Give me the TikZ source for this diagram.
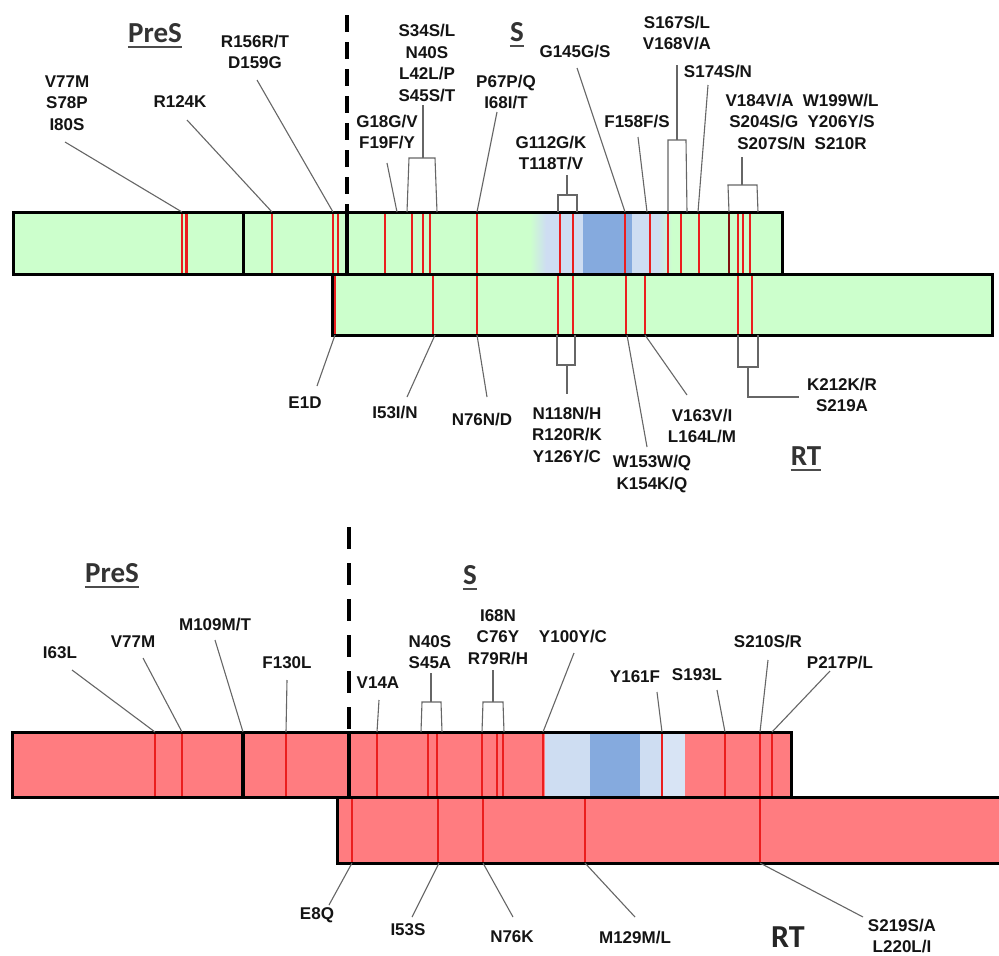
\documentclass[tikz,border=0pt]{standalone}
\usepackage{fontspec}
\setmainfont{Liberation Sans}
\newfontfamily\hdfont{Carlito}
\definecolor{barGreen}{RGB}{204,255,204}
\definecolor{barRed}{RGB}{255,124,128}
\definecolor{ltBlue}{RGB}{206,221,242}
\definecolor{dkBlue}{RGB}{133,170,222}
\definecolor{mutRed}{RGB}{235,30,30}
\tikzset{
  lab/.style={font=\bfseries\fontsize{17}{21.5}\selectfont, text=black!92, align=center, inner sep=0pt},
  hd/.style={font=\hdfont\bfseries\fontsize{29}{30}\selectfont, text=black!80, inner sep=0pt},
  bigrt/.style={font=\hdfont\bfseries\fontsize{32}{34}\selectfont, text=black!85, inner sep=0pt},
  conn/.style={draw=black!60, line width=1.1pt},
  mut/.style={draw=mutRed, line width=1.6pt},
  mutthick/.style={draw=mutRed, line width=2.8pt},
  barframe/.style={draw=black, line width=3pt},
  uline/.style={draw=black!70, line width=2.2pt},
}
\begin{document}
\begin{tikzpicture}[x=1pt,y=-1pt]
\clip (0,0) rectangle (999,956);
\fill[white] (0,0) rectangle (999,956);

%================ TOP DIAGRAM =================
% bars fill
\fill[barGreen] (13,212) rectangle (782,274);
\fill[barGreen] (332,274) rectangle (992,335);
\shade[left color=barGreen, right color=ltBlue] (530,212) rectangle (546,274);
\fill[ltBlue] (546,212) rectangle (583,274);
\fill[dkBlue] (583,212) rectangle (632,274);
\fill[ltBlue] (632,212) rectangle (658,274);
\shade[left color=ltBlue, right color=barGreen] (658,212) rectangle (672,274);

% mutation lines in top bar
\foreach \x in {272,333,338,412,423,560,573,650,681,699,738,750}
  \draw[mut] (\x,213) -- (\x,273);
\foreach \x in {182,186.5,385,430,477,625,668,743}
  \draw[mutthick] (\x,213) -- (\x,273);
\draw[draw=black!45!mutRed, line width=1.2pt] (729,213) -- (729,273);
% mutation lines in RT bar
\foreach \x in {335,433,558,573,738,752}
  \draw[mut] (\x,275) -- (\x,334);
\foreach \x in {477,626,645}
  \draw[mutthick] (\x,275) -- (\x,334);

% frames
\draw[barframe] (13,212) rectangle (782,274);
\draw[barframe] (332,274) rectangle (992,335);
\draw[barframe] (243,212) -- (243,274);
\draw[black, line width=4pt] (347,212) -- (347,274);
\draw[black, line width=4pt, dash pattern=on 17pt off 10pt] (347,15) -- (347,212);

% headings
\node[hd] (tpres) at (155,33) {PreS};
\draw[uline] ([yshift=-4pt]tpres.south west) -- ([yshift=-4pt]tpres.south east);
\node[hd] (ts) at (517,32) {S};
\draw[uline] ([yshift=-4pt]ts.south west) -- ([yshift=-4pt]ts.south east);
\node[hd] (trt) at (806,456) {RT};
\draw[uline] ([yshift=-4pt]trt.south west) -- ([yshift=-4pt]trt.south east);

% labels above
\node[lab] (t1) at (67,103) {V77M\\S78P\\I80S};
\node[lab] (t2) at (180,102) {R124K};
\node[lab] (t3) at (255,52) {R156R/T\\D159G};
\node[lab] (t4) at (427,63) {S34S/L\\N40S\\L42L/P\\S45S/T};
\node[lab] (t5) at (387,132) {G18G/V\\F19F/Y};
\node[lab] (t6) at (506,92) {P67P/Q\\I68I/T};
\node[lab] (t7) at (551,153) {G112G/K\\T118T/V};
\node[lab] (t8) at (575,52) {G145G/S};
\node[lab] (t9) at (637,122) {F158F/S};
\node[lab] (t10) at (677,33) {S167S/L\\V168V/A};
\node[lab] (t11) at (718,72) {S174S/N};
\node[lab] (t12) at (802,122) {V184V/A\hspace{0.55em}W199W/L\\S204S/G\hspace{0.55em}Y206Y/S\\S207S/N\hspace{0.55em}S210R};

% connector end points (top)
\coordinate (a1) at (65,142);   \coordinate (e1) at (182,212);
\coordinate (a2) at (187,120);  \coordinate (e2) at (272,212);
\coordinate (a3) at (257,80);   \coordinate (e3) at (333,212);
\coordinate (a5) at (387,163);  \coordinate (e5) at (397,212);
\coordinate (a6) at (497,112);  \coordinate (e6) at (477,212);
\coordinate (a8) at (577,68);   \coordinate (e8) at (625,212);
\coordinate (a9) at (638,137);  \coordinate (e9) at (647,212);
\coordinate (a11) at (708,85);  \coordinate (e11) at (698,212);
\foreach \n in {1,2,3,5,6,8,9,11} \draw[conn] (a\n) -- (e\n);

% brackets (top)
\coordinate (k4a) at (407,212); \coordinate (k4b) at (409,158); \coordinate (k4c) at (435,158); \coordinate (k4d) at (437,212);
\coordinate (k4s) at (423,158); \coordinate (k4t) at (423,105);
\draw[conn] (k4a) -- (k4b) -- (k4c) -- (k4d); \draw[conn] (k4s) -- (k4t);
\coordinate (k7a) at (558,212); \coordinate (k7b) at (558,195); \coordinate (k7c) at (577,195); \coordinate (k7d) at (577,212);
\coordinate (k7s) at (567,195); \coordinate (k7t) at (567,175);
\draw[conn] (k7a) -- (k7b) -- (k7c) -- (k7d); \draw[conn] (k7s) -- (k7t);
\coordinate (k10a) at (668,212); \coordinate (k10b) at (668,140); \coordinate (k10c) at (686,140); \coordinate (k10d) at (687,212);
\coordinate (k10s) at (677,140); \coordinate (k10t) at (677,65);
\draw[conn] (k10a) -- (k10b) -- (k10c) -- (k10d); \draw[conn] (k10s) -- (k10t);
\coordinate (k12a) at (729,212); \coordinate (k12b) at (728,185); \coordinate (k12c) at (757,185); \coordinate (k12d) at (758,212);
\coordinate (k12s) at (742,185); \coordinate (k12t) at (742,157);
\draw[conn] (k12a) -- (k12b) -- (k12c) -- (k12d); \draw[conn] (k12s) -- (k12t);

% labels below
\node[lab] (b1) at (305,403) {E1D};
\node[lab] (b2) at (395,413) {I53I/N};
\node[lab] (b3) at (482,420) {N76N/D};
\node[lab] (b4) at (567,435) {N118N/H\\R120R/K\\Y126Y/C};
\node[lab] (b5) at (652,474) {W153W/Q\\K154K/Q};
\node[lab] (b6) at (702,426) {V163V/I\\L164L/M};
\node[lab] (b7) at (842,395) {K212K/R\\S219A};

\coordinate (f1) at (335,335); \coordinate (g1) at (317,386);
\coordinate (f2) at (435,335); \coordinate (g2) at (407,397);
\coordinate (f3) at (477,335); \coordinate (g3) at (487,397);
\coordinate (f5) at (627,335); \coordinate (g5) at (647,447);
\coordinate (f6) at (645,335); \coordinate (g6) at (687,395);
\foreach \n in {1,2,3,5,6} \draw[conn] (f\n) -- (g\n);
\coordinate (m4a) at (557,335); \coordinate (m4b) at (557,365); \coordinate (m4c) at (575,365); \coordinate (m4d) at (575,335);
\coordinate (m4s) at (567,365); \coordinate (m4t) at (567,394);
\draw[conn] (m4a) -- (m4b) -- (m4c) -- (m4d); \draw[conn] (m4s) -- (m4t);
\coordinate (m7a) at (738,335); \coordinate (m7b) at (738,367); \coordinate (m7c) at (758,367); \coordinate (m7d) at (758,335);
\coordinate (m7s) at (748,367); \coordinate (m7t) at (748,397); \coordinate (m7u) at (799,397);
\draw[conn] (m7a) -- (m7b) -- (m7c) -- (m7d); \draw[conn] (m7s) -- (m7t) -- (m7u);

%================ BOTTOM DIAGRAM =================
\fill[barRed] (12,732) rectangle (791,797);
\fill[barRed] (337,797) rectangle (1010,863);
\fill[ltBlue] (545,732) rectangle (590,797);
\fill[dkBlue] (590,732) rectangle (640,797);
\fill[ltBlue] (640,732) rectangle (662,797);
\fill[ltBlue!80!white] (662,732) rectangle (685,797);

\foreach \x in {155,182,286,377,428,437,482,497,503,543,662,725,760,772}
  \draw[mut] (\x,733) -- (\x,796);
\foreach \x in {352,438,483,585}
  \draw[mut] (\x,798) -- (\x,862);
\draw[mutthick] (760,798) -- (760,862);

\draw[barframe] (12,732) rectangle (791,797);
\draw[barframe] (337,797) rectangle (1010,863);
\draw[black, line width=4pt] (243,732) -- (243,797);
\draw[black, line width=4pt] (349,732) -- (349,797);
\draw[black, line width=4.5pt, dash pattern=on 22pt off 14pt] (349,527) -- (349,732);

\node[hd] (bpres) at (112,573) {PreS};
\draw[uline] ([yshift=-4pt]bpres.south west) -- ([yshift=-4pt]bpres.south east);
\node[hd] (bs) at (470,575) {S};
\draw[uline] ([yshift=-4pt]bs.south west) -- ([yshift=-4pt]bs.south east);
\node[bigrt] (brt) at (788,937) {RT};

\node[lab] (u1) at (60,653) {I63L};
\node[lab] (u2) at (133,642) {V77M};
\node[lab] (u3) at (215,625) {M109M/T};
\node[lab] (u4) at (287,663) {F130L};
\node[lab] (u5) at (378,683) {V14A};
\node[lab] (u6) at (430,652) {N40S\\S45A};
\node[lab] (u7) at (498,637) {I68N\\C76Y\\R79R/H};
\node[lab] (u8) at (573,637) {Y100Y/C};
\node[lab] (u9) at (635,677) {Y161F};
\node[lab] (u10) at (697,675) {S193L};
\node[lab] (u11) at (768,642) {S210S/R};
\node[lab] (u12) at (840,663) {P217P/L};

\coordinate (p1) at (72,670);   \coordinate (q1) at (155,732);
\coordinate (p2) at (143,658);  \coordinate (q2) at (182,732);
\coordinate (p3) at (215,640);  \coordinate (q3) at (243,732);
\coordinate (p4) at (287,680);  \coordinate (q4) at (286,732);
\coordinate (p5) at (379,700);  \coordinate (q5) at (377,732);
\coordinate (p8) at (574,653);  \coordinate (q8) at (543,732);
\coordinate (p9) at (657,692);  \coordinate (q9) at (662,732);
\coordinate (p10) at (717,690); \coordinate (q10) at (725,732);
\coordinate (p11) at (768,660); \coordinate (q11) at (760,732);
\coordinate (p12) at (830,671); \coordinate (q12) at (772,732);
\foreach \n in {1,2,3,4,5,8,9,10,11,12} \draw[conn] (p\n) -- (q\n);

\coordinate (n6a) at (421,732); \coordinate (n6b) at (422,702); \coordinate (n6c) at (441,702); \coordinate (n6d) at (442,732);
\coordinate (n6s) at (431,702); \coordinate (n6t) at (431,673);
\draw[conn] (n6a) -- (n6b) -- (n6c) -- (n6d); \draw[conn] (n6s) -- (n6t);
\coordinate (n7a) at (482,732); \coordinate (n7b) at (483,702); \coordinate (n7c) at (503,702); \coordinate (n7d) at (504,732);
\coordinate (n7s) at (493,702); \coordinate (n7t) at (493,670);
\draw[conn] (n7a) -- (n7b) -- (n7c) -- (n7d); \draw[conn] (n7s) -- (n7t);

\node[lab] (v1) at (317,915) {E8Q};
\node[lab] (v2) at (408,930) {I53S};
\node[lab] (v3) at (512,937) {N76K};
\node[lab] (v4) at (635,937) {M129M/L};
\node[lab] (v5) at (902,936) {S219S/A\\L220L/I};

\coordinate (r1) at (352,863); \coordinate (s1) at (329,905);
\coordinate (r2) at (439,863); \coordinate (s2) at (412,917);
\coordinate (r3) at (483,863); \coordinate (s3) at (513,917);
\coordinate (r4) at (585,863); \coordinate (s4) at (635,917);
\coordinate (r5) at (760,863); \coordinate (s5) at (863,917);
\foreach \n in {1,...,5} \draw[conn] (r\n) -- (s\n);
\end{tikzpicture}
\end{document}
